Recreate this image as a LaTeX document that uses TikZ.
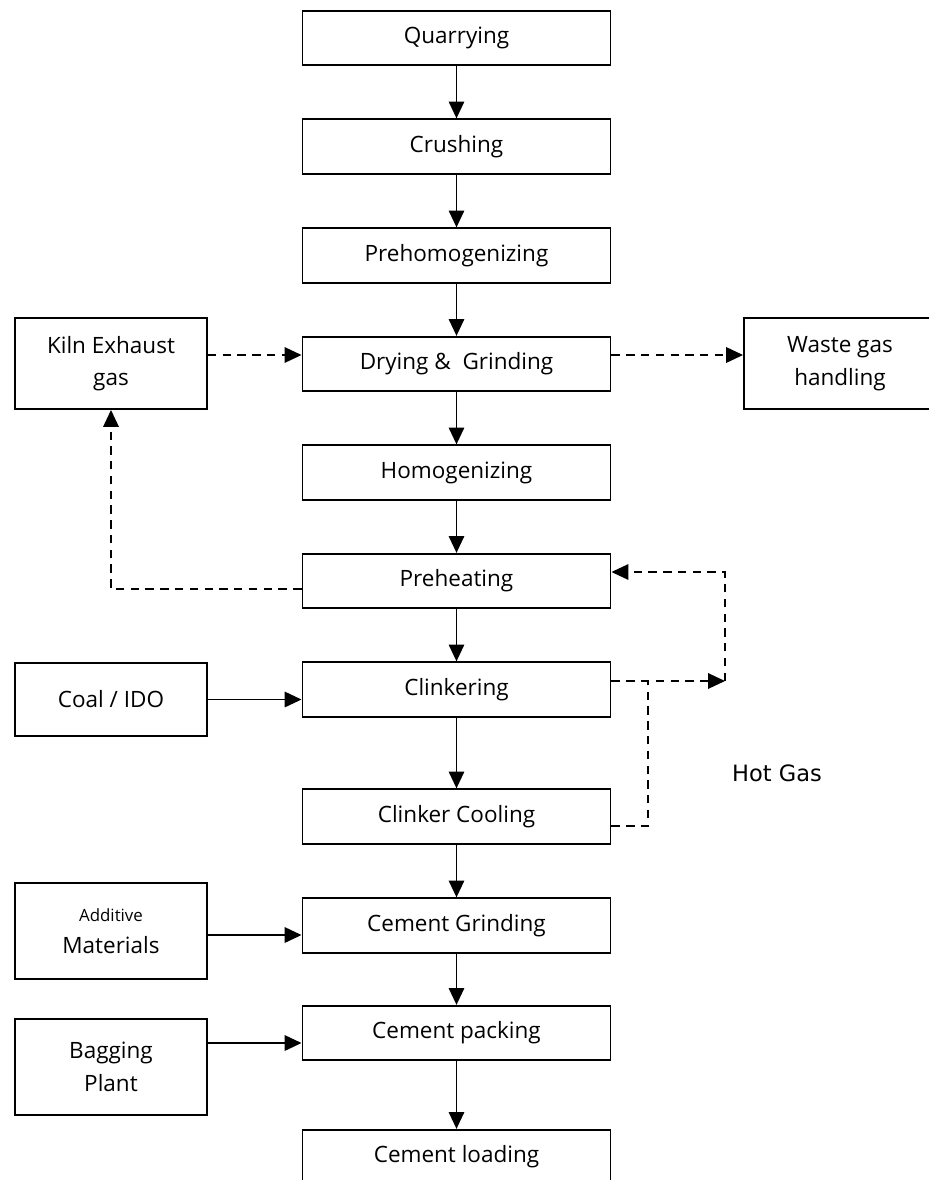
\documentclass[tikz,border=0pt]{standalone}
\usepackage{fontspec}
\setmainfont{Open Sans}
\newfontfamily\labelfont{DejaVu Sans}
\usetikzlibrary{positioning,arrows.meta,calc}

\tikzset{
  stepbox/.style={draw, line width=1.3pt, minimum width=7.7cm, minimum height=1.36cm,
     inner sep=0pt, font=\fontsize{16}{23}\selectfont},
  sidebox/.style={draw, line width=1.3pt, minimum width=4.8cm, inner sep=0pt,
     align=center, font=\fontsize{16}{23}\selectfont},
  flow/.style={-{Triangle[length=12pt,width=11pt]}, line width=1.2pt},
  gasline/.style={line width=1.1pt, dash pattern=on 6pt off 4.5pt},
  gas/.style={gasline, -{Triangle[length=12pt,width=11pt]}},
}

\begin{document}
\begin{tikzpicture}[x=0.025cm, y=-0.025cm]
  \useasboundingbox (0,0) rectangle (929,1180);

  % main process column
  \node[stepbox] (quarry)  at (456.5,38)    {Quarrying};
  \node[stepbox] (crush)   at (456.5,146.5) {Crushing};
  \node[stepbox] (prehom)  at (456.5,255.5) {Prehomogenizing};
  \node[stepbox] (drying)  at (456.5,364)   {Drying \&~ Grinding};
  \node[stepbox] (homog)   at (456.5,472.5) {Homogenizing};
  \node[stepbox] (preheat) at (456.5,581)   {Preheating};
  \node[stepbox] (clinker) at (456.5,689.5) {Clinkering};
  \node[stepbox] (cooling) at (456.5,816.5) {Clinker Cooling};
  \node[stepbox] (cgrind)  at (456.5,925.5) {Cement Grinding};
  \node[stepbox] (cpack)   at (456.5,1033)  {Cement packing};
  \node[stepbox] (cload)   at (456.5,1157)  {Cement loading};

  % side inputs and outputs
  \node[sidebox, minimum height=2.275cm] (kiln)     at (111,363.5) {Kiln Exhaust\\gas};
  \node[sidebox, minimum height=2.275cm, minimum width=5.2cm] (waste) at (848,363.5)
     {\hspace*{-0.4cm}Waste gas\\\hspace*{-0.4cm}handling};
  \node[sidebox, minimum height=1.825cm] (coal)     at (111,699.5) {Coal / IDO};
  \node[sidebox, minimum height=2.4cm]   (additive) at (111,931)
     {{\fontsize{12}{14}\selectfont Additive}\\Materials};
  \node[sidebox, minimum height=2.4cm]   (bagging)  at (111,1067)  {Bagging\\Plant};

  \foreach \a/\b in {quarry/crush, crush/prehom, prehom/drying, drying/homog,
      homog/preheat, preheat/clinker, clinker/cooling, cooling/cgrind,
      cgrind/cpack, cpack/cload}
    \draw[flow] (\a) -- (\b);

  % gas and feed lines
  \coordinate (gasrow) at (0,355);
  \coordinate (exhrow) at (0,589);
  \coordinate (addrow) at (0,935);
  \coordinate (bagrow) at (0,1043);
  \draw[gas] (kiln.east |- gasrow) -- (drying.west |- gasrow);
  \draw[gas] (drying.east |- gasrow) -- (waste.west |- gasrow);
  \draw[gas] (preheat.west |- exhrow) -| (kiln.south);
  \draw[flow] (coal.east) -- (coal.east -| clinker.west);
  \draw[flow] (additive.east |- addrow) -- (cgrind.west |- addrow);
  \draw[flow] (bagging.east |- bagrow) -- (cpack.west |- bagrow);

  % hot gas loop
  \coordinate (hgcorner) at (725,681);
  \coordinate (hgtop)    at (725,572);
  \coordinate (hgjoin)   at (648,681);
  \coordinate (hgcool)   at (648,826);
  \draw[gas] (clinker.east |- hgcorner) -- (hgcorner);
  \draw[gas] (hgcorner) -- (hgtop) -- (preheat.east |- hgtop);
  \draw[gasline] (cooling.east |- hgcool) -- (hgcool) -- (hgjoin);
  \node[font=\labelfont\fontsize{16}{19}\selectfont] (hotgas) at (777,773) {Hot Gas};
\end{tikzpicture}
\end{document}
